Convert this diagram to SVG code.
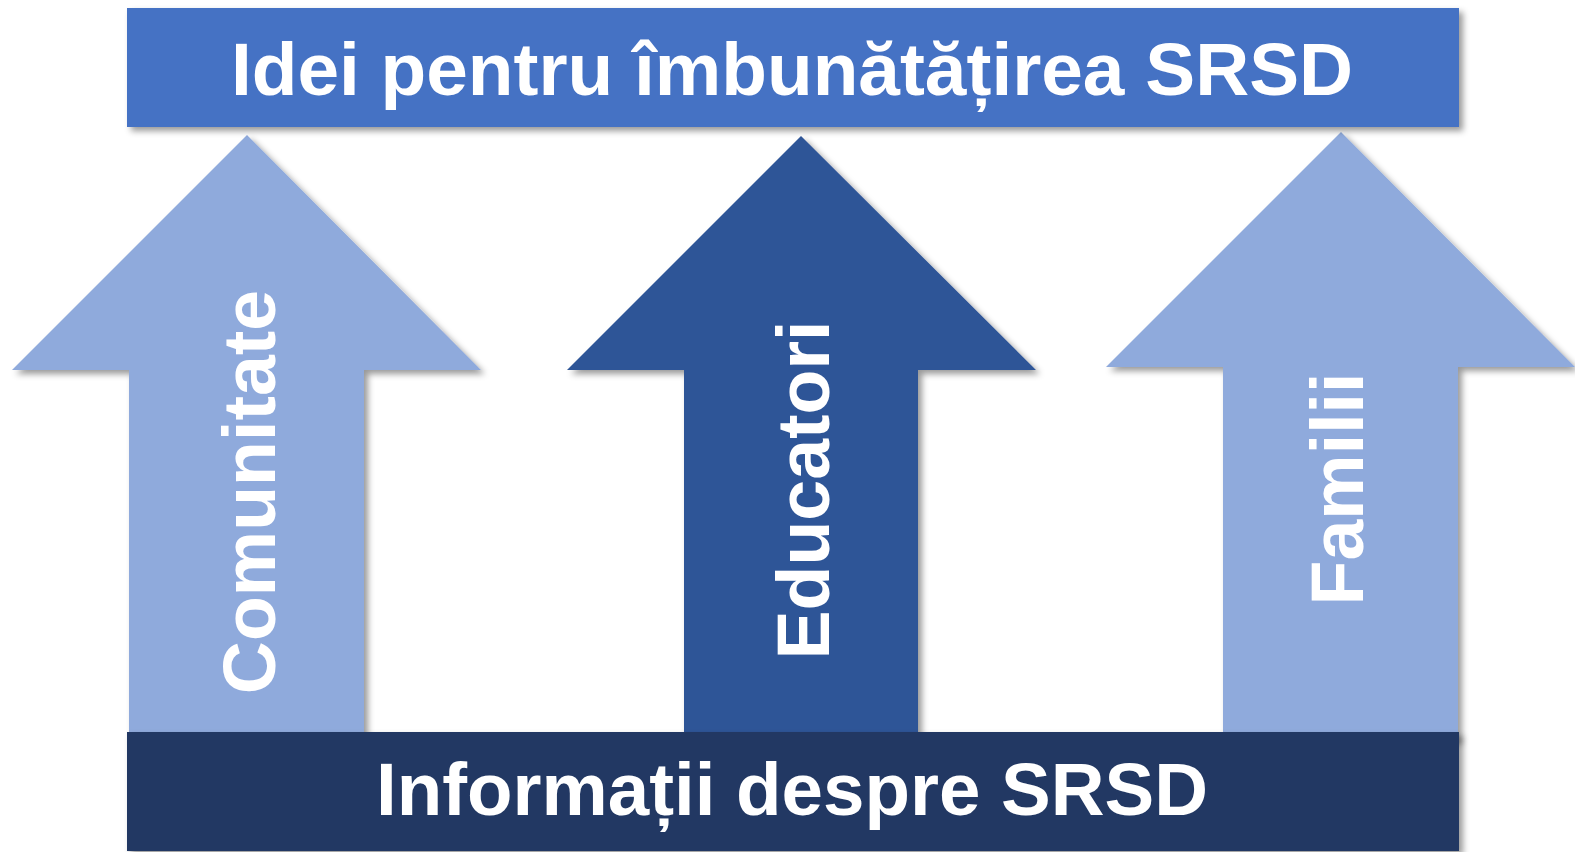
<svg xmlns="http://www.w3.org/2000/svg" width="1575" height="852" viewBox="0 0 1575 852">
<defs>
<filter id="sh" x="-5%" y="-5%" width="115%" height="115%">
<feDropShadow dx="4" dy="4" stdDeviation="3" flood-color="#000" flood-opacity="0.4"/>
</filter>
<style>
.t{font-family:"Liberation Sans",Arial,sans-serif;font-weight:bold;fill:#fff;}
.light{fill:#8FAADC;}
.mid{fill:#2F5597;}
</style>
</defs>
<rect width="1575" height="852" fill="#fff"/>
<g id="arrow-comunitate">
<path class="light" filter="url(#sh)" d="M247,135 L481,370 L364,370 L364,740 L129,740 L129,370 L12,370 Z"/>
<text class="t" font-size="73.5" text-anchor="middle" transform="translate(275,492) rotate(-90)">Comunitate</text>
</g>
<g id="arrow-educatori">
<path class="mid" filter="url(#sh)" d="M801,136 L1036,370 L918,370 L918,740 L684,740 L684,370 L567,370 Z"/>
<text class="t" font-size="73.5" text-anchor="middle" transform="translate(829,490) rotate(-90)">Educatori</text>
</g>
<g id="arrow-familii">
<path class="light" filter="url(#sh)" d="M1341,132 L1575,367 L1458,367 L1458,740 L1223,740 L1223,367 L1106,367 Z"/>
<text class="t" font-size="73.5" text-anchor="middle" transform="translate(1363,489) rotate(-90)">Familii</text>
</g>
<g id="top-bar">
<rect x="127" y="8" width="1332" height="119" fill="#4472C4" filter="url(#sh)"/>
<text class="t" font-size="74.8" text-anchor="middle" x="792" y="95">Idei pentru îmbunătățirea SRSD</text>
</g>
<g id="bottom-bar">
<rect x="127" y="732" width="1332" height="119" fill="#203864" filter="url(#sh)"/>
<text class="t" font-size="74.5" text-anchor="middle" x="792" y="815">Informații despre SRSD</text>
</g>
</svg>
